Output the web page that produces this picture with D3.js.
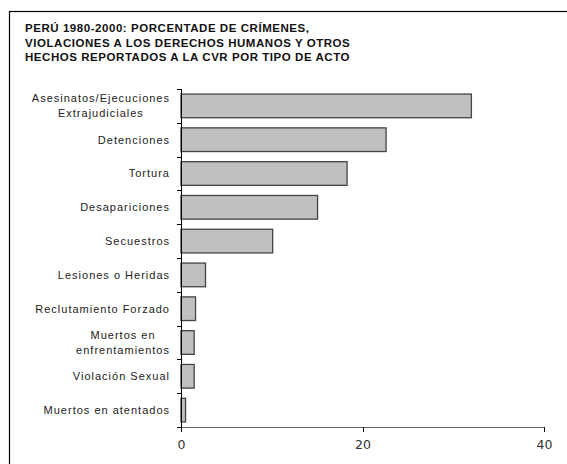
<!DOCTYPE html>
<html>
<head>
<meta charset="utf-8">
<script src="https://cdn.jsdelivr.net/npm/d3@7"></script>
<style>
  body { margin: 0; background: #fff; }
  svg { display: block; font-family: "Liberation Sans", Arial, sans-serif; }
  .axis path, .axis line { shape-rendering: crispEdges; }
</style>
</head>
<body>
<div id="chart"></div>
<script>
var titleLines = [
  "PERÚ 1980-2000: PORCENTADE DE CRÍMENES,",
  "VIOLACIONES A LOS DERECHOS HUMANOS Y OTROS",
  "HECHOS REPORTADOS A LA CVR POR TIPO DE ACTO"
];
var categories = [
  ["Asesinatos/Ejecuciones", "Extrajudiciales"],
  ["Detenciones"],
  ["Tortura"],
  ["Desapariciones"],
  ["Secuestros"],
  ["Lesiones o Heridas"],
  ["Reclutamiento Forzado"],
  ["Muertos en", "enfrentamientos"],
  ["Violación Sexual"],
  ["Muertos en atentados"]
];
var values = [32.0, 22.6, 18.3, 15.05, 10.1, 2.7, 1.6, 1.45, 1.45, 0.5];
var xTicks = [0, 20, 40];

var W = 567, H = 464;
var margin = {left: 181, top: 89, right: 23, bottom: 37};
var width = W - margin.left - margin.right;
var height = H - margin.top - margin.bottom;

var data = categories.map(function(c, i) { return {key: c.join(" "), lines: c, value: values[i]}; });

var svg = d3.select("#chart").append("svg")
    .attr("width", W)
    .attr("height", H);

// outer frame (runs off the right and bottom of the picture)
svg.append("rect")
    .attr("x", 9.5).attr("y", 11.5)
    .attr("width", 600).attr("height", 500)
    .attr("fill", "none")
    .attr("stroke", "#000")
    .attr("stroke-width", 1.2);

svg.append("g").selectAll("text")
    .data(titleLines)
    .join("text")
    .attr("x", 25)
    .attr("y", function(d, i) { return 32 + i * 14.5; })
    .attr("font-size", "11.5px")
    .attr("font-weight", "bold")
    .attr("letter-spacing", "0.55px")
    .attr("fill", "#111")
    .text(function(d) { return d; });

var g = svg.append("g")
    .attr("transform", "translate(" + margin.left + "," + margin.top + ")");

var x = d3.scaleLinear().domain([0, 40]).range([0, width]);
var y = d3.scaleBand()
    .domain(data.map(function(d) { return d.key; }))
    .range([0, height])
    .paddingInner(0.3)
    .paddingOuter(0.15);

// bars
g.append("g").selectAll("rect")
    .data(data)
    .join("rect")
    .attr("x", x(0))
    .attr("y", function(d) { return y(d.key); })
    .attr("width", function(d) { return x(d.value) - x(0); })
    .attr("height", y.bandwidth())
    .attr("fill", "#c0c0c0")
    .attr("stroke", "#444")
    .attr("stroke-width", 1.3);

// x axis
var xAxis = g.append("g")
    .attr("class", "axis")
    .attr("transform", "translate(0," + height + ")")
    .call(d3.axisBottom(x).tickValues(xTicks).tickSize(5).tickSizeOuter(0));
xAxis.select(".domain").attr("stroke", "#666").attr("stroke-width", 1.2);
xAxis.selectAll(".tick line").attr("stroke", "#000");
xAxis.selectAll(".tick text")
    .attr("y", 13)
    .attr("font-family", "'DejaVu Sans', sans-serif")
    .attr("font-size", "12.5px")
    .attr("fill", "#333");

// y axis: line with ticks at the band boundaries
var step = y.step();
var bounds = d3.range(data.length + 1).map(function(i) { return i * step; });
g.append("line")
    .attr("x1", 0.5).attr("x2", 0.5)
    .attr("y1", 0).attr("y2", height)
    .attr("stroke", "#000");
g.append("g").selectAll("line")
    .data(bounds)
    .join("line")
    .attr("x1", -4).attr("x2", 0)
    .attr("y1", function(d) { return Math.round(d) + 0.5; })
    .attr("y2", function(d) { return Math.round(d) + 0.5; })
    .attr("stroke", "#000");

// category labels (multi-line ones centred as a block, block right-aligned)
var labelRight = -11;
var lab = g.append("g").selectAll("g")
    .data(data)
    .join("g")
    .attr("transform", function(d) { return "translate(0," + (y(d.key) + y.bandwidth() / 2) + ")"; });

lab.each(function(d) {
  var sel = d3.select(this);
  var n = d.lines.length;
  var texts = sel.selectAll("text")
      .data(d.lines)
      .join("text")
      .attr("y", function(t, i) { return (i - (n - 1) / 2) * 15; })
      .attr("dy", "0.35em")
      .attr("font-size", "11px")
      .attr("letter-spacing", "1px")
      .attr("fill", "#222")
      .text(function(t) { return t; });
  var widths = [];
  texts.each(function() { widths.push(this.getComputedTextLength()); });
  var maxW = d3.max(widths);
  texts.attr("text-anchor", "middle")
      .attr("x", labelRight - maxW / 2);
});
</script>
</body>
</html>
